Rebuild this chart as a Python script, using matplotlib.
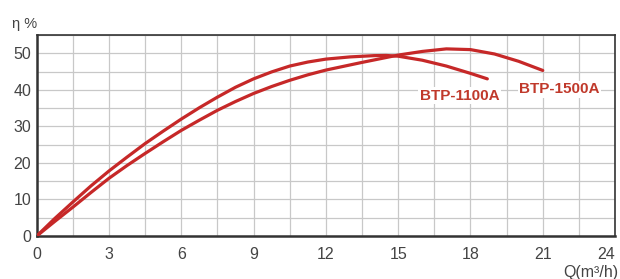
import matplotlib.pyplot as plt
import numpy as np

# КПД насосов
q_1100 = [0, 0.75, 1.5, 2.25, 3, 3.75, 4.5, 5.25, 6, 6.75, 7.5, 8.25, 9, 9.75, 10.5, 11.25,
          12, 13, 14, 14.5, 15, 16, 17, 18, 18.7]
eta_1100 = [0, 4.8, 9.3, 13.7, 17.8, 21.6, 25.3, 28.7, 32.0, 35.1, 38.0, 40.7, 43.0, 44.9, 46.5, 47.6,
            48.4, 49.0, 49.35, 49.4, 49.2, 48.1, 46.5, 44.5, 43.0]

q_1500 = [0, 0.75, 1.5, 2.25, 3, 3.75, 4.5, 5.25, 6, 6.75, 7.5, 8.25, 9, 9.75, 10.5, 11.25,
          12, 13.5, 15, 16, 17, 18, 19, 20, 21]
eta_1500 = [0, 4.0, 7.9, 11.9, 15.8, 19.3, 22.6, 25.8, 28.9, 31.7, 34.4, 36.8, 39.0, 40.9, 42.6, 44.1,
            45.4, 47.5, 49.5, 50.5, 51.2, 51.0, 49.8, 47.8, 45.3]

x_ticks = [0, 3, 6, 9, 12, 15, 18, 21, 24]
y_ticks = [0, 10, 20, 30, 40, 50]

RED = '#c62828'

plt.rcParams['font.family'] = ['Liberation Sans', 'DejaVu Sans']

fig = plt.figure(figsize=(6.2, 2.79), dpi=100)
ax = fig.add_axes([0.0592, 0.154, 0.9328, 0.7206])

ax.plot(q_1100, eta_1100, color=RED, lw=2.3, solid_capstyle='round', zorder=3)
ax.plot(q_1500, eta_1500, color=RED, lw=2.3, solid_capstyle='round', zorder=3)

ax.text(17.55, 38.4, 'BTP-1100A', color='#c0392b', fontsize=11, fontweight='bold',
        ha='center', va='center', zorder=4,
        bbox=dict(facecolor='white', edgecolor='none', pad=1.0))
ax.text(21.7, 40.1, 'BTP-1500A', color='#c0392b', fontsize=11, fontweight='bold',
        ha='center', va='center', zorder=4,
        bbox=dict(facecolor='white', edgecolor='none', pad=1.0))

ax.set_xlim(0, 24)
ax.set_ylim(0, 55)
ax.set_xticks(x_ticks)
ax.set_yticks(y_ticks)
ax.set_xticks(np.arange(0, 24.1, 1.5), minor=True)
ax.set_yticks(np.arange(0, 55.1, 5), minor=True)
ax.grid(True, which='both', color='#c8c8c8', lw=0.9, zorder=0)
ax.tick_params(which='both', length=0, labelsize=11.5, labelcolor='#444444')
ax.tick_params(axis='x', pad=8)
ax.tick_params(axis='y', pad=4)

# последняя подпись "24" прижата к правому краю
ax.get_xticklabels()[-1].set_horizontalalignment('right')

for side in ['left', 'bottom']:
    ax.spines[side].set_linewidth(1.8)
    ax.spines[side].set_color('#333333')
for side in ['top', 'right']:
    ax.spines[side].set_linewidth(1.2)
    ax.spines[side].set_color('#333333')

fig.text(12 / 620, 1 - 24 / 279, 'η %', fontsize=10.5, color='#444444', ha='left', va='center')
fig.text(618 / 620, 1 - 272 / 279, 'Q(m³/h)', fontsize=11.5, color='#444444', ha='right', va='center')

fig.savefig('out.png', dpi=100)
